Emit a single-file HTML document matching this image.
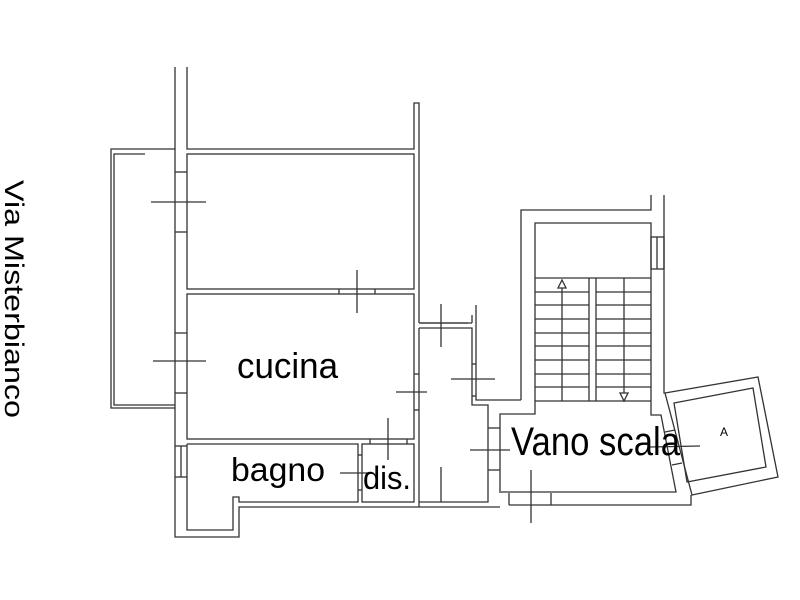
<!DOCTYPE html>
<html><head><meta charset="utf-8"><style>html,body{margin:0;padding:0;background:#fff}svg{display:block}</style></head><body>
<svg width="800" height="600" viewBox="0 0 800 600" xmlns="http://www.w3.org/2000/svg" font-family="Liberation Sans, sans-serif">
<g fill="none" stroke="#333" stroke-width="1.3">
<polyline points="175,67 175,537 239,537 239,507 500,507"/>
<polyline points="187,67 187,149 414,149 414,103 419,103 419,323"/>
<polyline points="175,149 111,149 111,408 175,408"/>
<polyline points="145,154 114,154 114,405 175,405"/>
<rect x="187" y="154" width="227" height="135"/>
<line x1="175" y1="172" x2="187" y2="172"/><line x1="175" y1="232" x2="187" y2="232"/>
<line x1="151" y1="202" x2="206" y2="202"/>
<line x1="339" y1="289" x2="339" y2="294"/><line x1="375" y1="289" x2="375" y2="294"/>
<line x1="357" y1="270" x2="357" y2="313"/>
<rect x="187" y="294" width="227" height="145"/>
<line x1="175" y1="333" x2="187" y2="333"/><line x1="175" y1="393" x2="187" y2="393"/>
<line x1="153" y1="361" x2="206" y2="361"/>
<line x1="414" y1="374" x2="419" y2="374"/><line x1="414" y1="410" x2="419" y2="410"/>
<line x1="396" y1="392" x2="427" y2="392"/>
<polyline points="187,444 358,444 358,502 239,502 239,497 233,497 233,530 187,530 187,444"/>
<line x1="175" y1="446" x2="187" y2="446"/><line x1="181" y1="446" x2="181" y2="477"/><line x1="175" y1="477" x2="187" y2="477"/>
<line x1="358" y1="455" x2="362" y2="455"/><line x1="358" y1="490" x2="362" y2="490"/>
<line x1="340" y1="473" x2="372" y2="473"/>
<rect x="362" y="444" width="52" height="58"/>
<line x1="370" y1="439" x2="370" y2="444"/><line x1="407" y1="439" x2="407" y2="444"/>
<line x1="388" y1="418" x2="388" y2="460"/>
<line x1="419" y1="323" x2="472" y2="323"/><line x1="472" y1="315" x2="472" y2="323"/>
<polyline points="419,328 472,328 472,405 488,405 488,502 419,502"/>
<line x1="419" y1="328" x2="419" y2="507"/>
<polyline points="476,305 476,400 521,400"/>
<line x1="472" y1="364" x2="476" y2="364"/><line x1="472" y1="396" x2="476" y2="396"/>
<line x1="420" y1="323" x2="468" y2="323"/>
<line x1="441" y1="304" x2="441" y2="347"/>
<line x1="451" y1="379" x2="495" y2="379"/>
<line x1="441" y1="467" x2="441" y2="502"/>
<line x1="470" y1="450" x2="510" y2="450"/>
<line x1="488" y1="428" x2="500" y2="428"/><line x1="488" y1="470" x2="500" y2="470"/>
<polyline points="521,400 521,210 651,210 651,195"/>
<polyline points="664,195 664,393 665,393"/>
<polyline points="500,493 500,414 535,414 535,223 651,223 651,415 661,415 676,492 501,492"/>
<polyline points="509,505 691,505 691,495"/>
<rect x="651" y="237" width="13" height="32"/><line x1="657" y1="237" x2="657" y2="269"/>
<line x1="535" y1="278" x2="651" y2="278"/>
<g>
<line x1="535" y1="292" x2="589" y2="292"/><line x1="596" y1="292" x2="651" y2="292"/>
<line x1="535" y1="305" x2="589" y2="305"/><line x1="596" y1="305" x2="651" y2="305"/>
<line x1="535" y1="319" x2="589" y2="319"/><line x1="596" y1="319" x2="651" y2="319"/>
<line x1="535" y1="333" x2="589" y2="333"/><line x1="596" y1="333" x2="651" y2="333"/>
<line x1="535" y1="346" x2="589" y2="346"/><line x1="596" y1="346" x2="651" y2="346"/>
<line x1="535" y1="360" x2="589" y2="360"/><line x1="596" y1="360" x2="651" y2="360"/>
<line x1="535" y1="374" x2="589" y2="374"/><line x1="596" y1="374" x2="651" y2="374"/>
<line x1="535" y1="387" x2="589" y2="387"/><line x1="596" y1="387" x2="651" y2="387"/>
<line x1="535" y1="401" x2="651" y2="401"/>
</g>
<line x1="589" y1="278" x2="589" y2="401"/><line x1="596" y1="278" x2="596" y2="401"/>
<line x1="562" y1="288" x2="562" y2="401"/><polygon points="562,280 558,288 566,288"/>
<line x1="624" y1="278" x2="624" y2="393"/><polygon points="624,401 620,393 628,393"/>
<line x1="509" y1="493" x2="509" y2="505"/><line x1="551" y1="493" x2="551" y2="505"/>
<line x1="531" y1="470" x2="531" y2="523"/>
<line x1="665" y1="432" x2="675" y2="430"/><line x1="672" y1="465" x2="682" y2="463"/>
<line x1="650" y1="447" x2="700" y2="446"/>
<polygon points="665,393 758,377 778,477 692,495"/>
<polygon points="674,403 753,388 766,467 687,482"/>
</g>
<g fill="#000">
<text x="237" y="378" font-size="36" textLength="101" lengthAdjust="spacingAndGlyphs">cucina</text>
<text x="231" y="481" font-size="33" textLength="94" lengthAdjust="spacingAndGlyphs">bagno</text>
<text x="363" y="489" font-size="32" textLength="48" lengthAdjust="spacingAndGlyphs">dis.</text>
<text x="511" y="455" font-size="40" textLength="169" lengthAdjust="spacingAndGlyphs">Vano scala</text>
<text x="720" y="436" font-size="12">A</text>
<text transform="translate(5,180) rotate(90)" font-size="27" textLength="238" lengthAdjust="spacingAndGlyphs">Via Misterbianco</text>
</g>
</svg>
</body></html>
